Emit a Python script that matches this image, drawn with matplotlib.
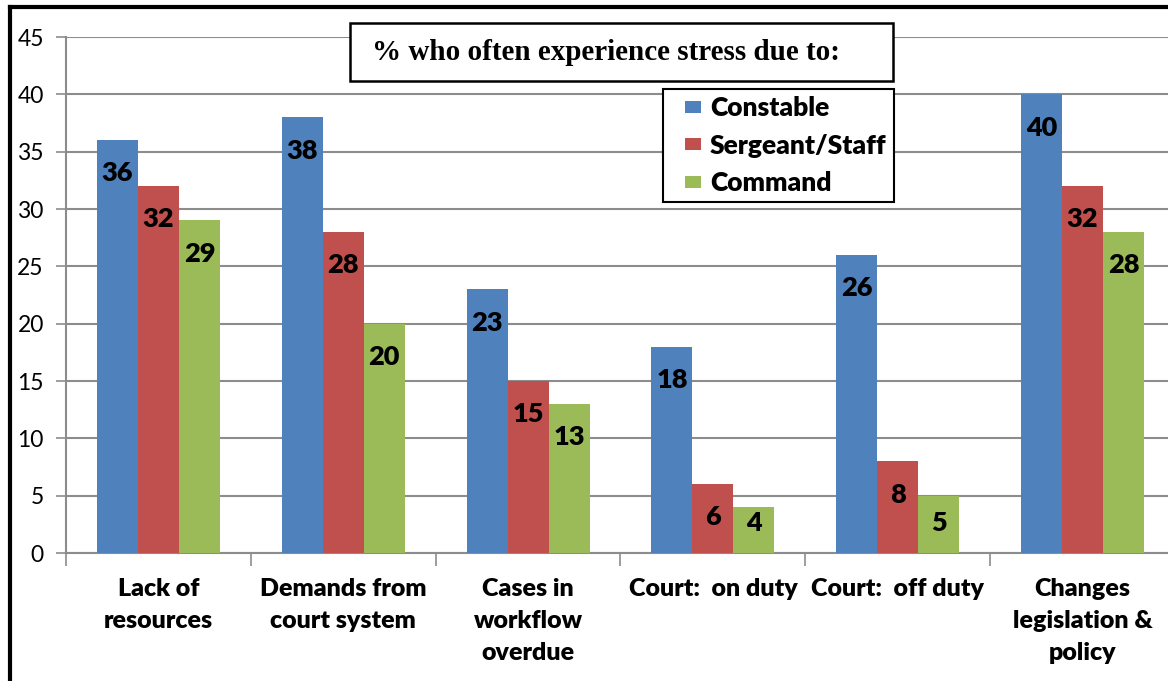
import matplotlib
matplotlib.use("Agg")
import matplotlib.pyplot as plt
from matplotlib.lines import Line2D
from matplotlib.patches import Rectangle
import numpy as np

plt.rcParams['font.family'] = ['Lato', 'DejaVu Sans']

# data
categories = ["Lack of\nresources", "Demands from\ncourt system", "Cases in\nworkflow\noverdue",
              "Court:  on duty", "Court:  off duty", "Changes\nlegislation &\npolicy"]
constable = [36, 38, 23, 18, 26, 40]
sergeant = [32, 28, 15, 6, 8, 32]
command = [29, 20, 13, 4, 5, 28]
series_names = ["Constable", "Sergeant/Staff", "Command"]
colors = ["#4F81BD", "#C0504D", "#9BBB59"]
y_ticks = list(range(0, 50, 5))

W, H = 1168, 681
fig = plt.figure(figsize=(W / 100, H / 100), dpi=100)

def fx(px):
    return px / W

def fy(py):
    return 1 - py / H

ax = fig.add_axes([fx(66), fy(553), fx(1175) - fx(66), fy(37) - fy(553)])

x = np.arange(len(categories))
bw = 0.222
grid_c = "#8c8c8c"

for i, (vals, name, c) in enumerate(zip([constable, sergeant, command], series_names, colors)):
    pos = x + (i - 1) * bw
    ax.bar(pos, vals, width=bw, color=c, label=name, linewidth=0, zorder=3)
    for p, v in zip(pos, vals):
        ax.text(p, max(v - 2.9, 2.6), str(v), ha="center", va="center",
                fontsize=19.5, fontweight="heavy", color="black", zorder=4)

ax.set_xlim(-0.5, len(categories) - 0.5)
ax.set_ylim(0, 45)
ax.set_yticks(y_ticks)
ax.set_yticklabels([str(t) for t in y_ticks], fontsize=16.5)
ax.yaxis.grid(True, color=grid_c, linewidth=1.5, zorder=0)
ax.tick_params(axis="y", length=7, width=1.2, color=grid_c, pad=9)

# category boundary ticks on x axis
ax.set_xticks(np.arange(-0.5, len(categories), 1.0))
ax.set_xticklabels([])
ax.tick_params(axis="x", length=9, width=1.2, color=grid_c)
for xi, lab in zip(x, categories):
    ax.text(xi, -2.2, lab, ha="center", va="top", fontsize=18, fontweight="heavy",
            linespacing=1.56, transform=ax.transData)

for s in ["top", "right"]:
    ax.spines[s].set_visible(False)
for s in ["left", "bottom"]:
    ax.spines[s].set_color(grid_c)
    ax.spines[s].set_linewidth(1.5)

# title box
fig.patches.append(Rectangle((fx(350), fy(81)), fx(893) - fx(350), fy(23) - fy(81),
                             transform=fig.transFigure, facecolor="white", edgecolor="black",
                             linewidth=1.8, zorder=5))
fig.text(fx(372), fy(52), "% who often experience stress due to:", ha="left", va="center",
         fontsize=21, fontweight="bold", family="Liberation Serif", zorder=6)

# legend with small rectangular swatches
swatch = [(-1, -0.76), (1, -0.76), (1, 0.76), (-1, 0.76), (-1, -0.76)]
handles = [Line2D([], [], linestyle="none", marker=swatch, markersize=12.2,
                  markerfacecolor=c, markeredgewidth=0) for c in colors]
leg = ax.legend(handles, series_names, loc="upper left", bbox_to_anchor=(fx(663), fy(89)),
                bbox_transform=fig.transFigure,
                fontsize=19, frameon=True, fancybox=False, edgecolor="black", framealpha=1,
                handlelength=1.77, handletextpad=-0.26, labelspacing=0.51,
                borderpad=0.27, borderaxespad=0)
leg.get_frame().set_linewidth(1.5)
for t in leg.get_texts():
    t.set_fontweight("heavy")
leg.set_zorder(6)

# outer border lines (top and left)
fig.add_artist(Line2D([fx(10), 1], [fy(7), fy(7)], color="black", linewidth=3, transform=fig.transFigure))
fig.add_artist(Line2D([fx(10), fx(10)], [fy(7), 0], color="black", linewidth=3, transform=fig.transFigure))

fig.savefig("out.png", dpi=100)
